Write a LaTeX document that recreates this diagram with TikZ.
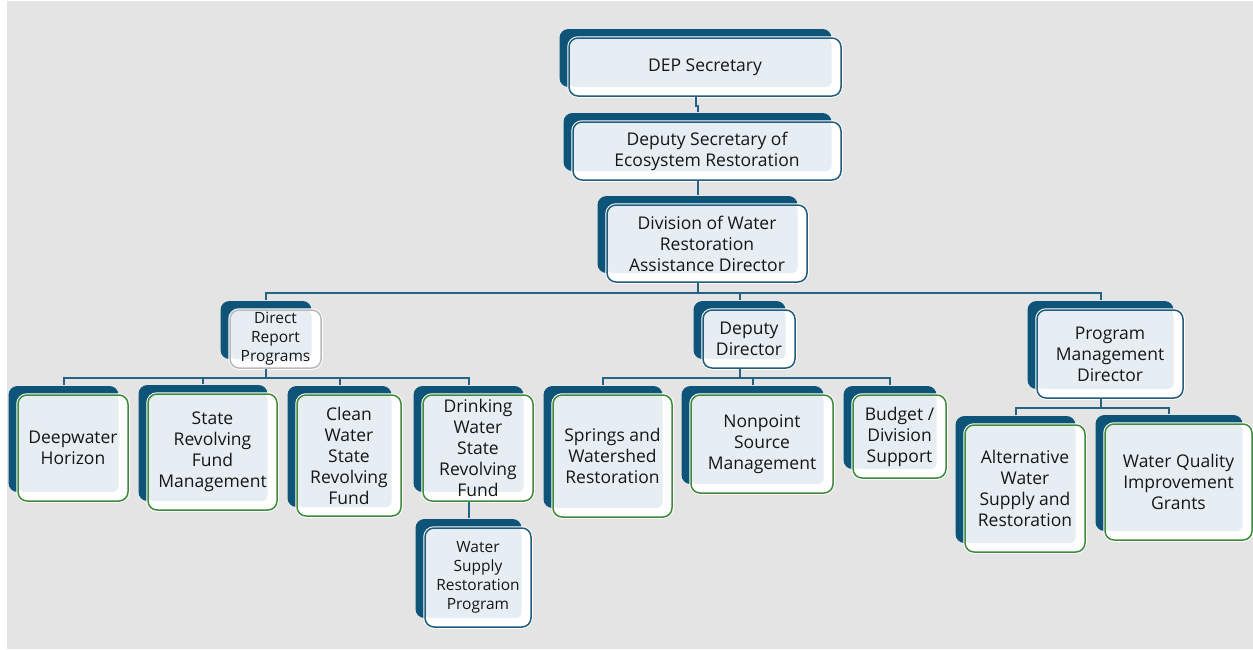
\documentclass[tikz,border=0pt]{standalone}
\usepackage{fontspec}
\setmainfont{Open Sans}
\usepackage{xcolor}
\usepackage{tikz}
\usetikzlibrary{shadows}

\definecolor{pagegray}{RGB}{227,228,227}
\definecolor{backblue}{RGB}{14,84,120}
\definecolor{linkblue}{RGB}{38,98,132}
\definecolor{headline}{RGB}{34,92,124}
\definecolor{leafgreen}{RGB}{62,138,60}
\definecolor{cardfill}{RGB}{231,238,243}
\definecolor{inktext}{RGB}{22,22,22}

\tikzset{
    card/.style={rounded corners=9pt, inner sep=0pt, align=center, text=inktext,
        font=\fontsize{17.5}{21}\selectfont, fill=white, line width=1.5pt,
        general shadow={fill=backblue, shadow xshift=-9.5pt, shadow yshift=9pt},
        preaction={draw=white, line width=3.5pt},
        path picture={\fill[cardfill, rounded corners=5pt]
            (path picture bounding box.north west) rectangle
            ([xshift=-9.5pt,yshift=9pt]path picture bounding box.south east);}},
    head/.style={card, draw=headline},
    leaf/.style={card, draw=leafgreen},
    small/.style={font=\fontsize{15.5}{19}\selectfont},
    link/.style={draw=linkblue, line width=2pt},
}

\begin{document}
\begin{tikzpicture}[x=1pt, y=-1pt]
    % Nền xám
    \useasboundingbox (0,0) rectangle (1253,649);
    \fill[pagegray] (7,1) rectangle (1253,649);

    % Cấp trên
    \node[head, minimum width=272pt, minimum height=58pt] (sec) at (705,67) {DEP Secretary};
    \node[head, minimum width=268pt, minimum height=58pt] (depsec) at (707,151) {Deputy Secretary of\\Ecosystem Restoration};
    \node[head, minimum width=200pt, minimum height=77pt] (division) at (707,243.5) {Division of Water\\Restoration\\Assistance Director};

    % Cấp giữa
    \node[card, small, draw=gray!55, minimum width=91pt, minimum height=58pt] (direct) at (275.5,339) {Direct\\Report\\Programs};
    \node[head, minimum width=92pt, minimum height=58pt] (depdir) at (749,339) {Deputy\\Director};
    \node[head, minimum width=146pt, minimum height=88pt] (progmgr) at (1110,354) {Program\\Management\\Director};

    % Các chương trình
    \node[leaf, minimum width=110pt, minimum height=106pt] (deepwater) at (73,448) {Deepwater\\Horizon};
    \node[leaf, minimum width=129pt, minimum height=116pt] (srfmgmt) at (212.5,452) {State\\Revolving\\Fund\\Management};
    \node[leaf, minimum width=104pt, minimum height=121pt] (cwsrf) at (349,455.5) {Clean\\Water\\State\\Revolving\\Fund};
    \node[leaf, minimum width=110pt, minimum height=106pt] (dwsrf) at (478,448) {Drinking\\Water\\State\\Revolving\\Fund};
    \node[head, small, minimum width=106pt, minimum height=99pt] (wsrp) at (478,577.5) {Water\\Supply\\Restoration\\Program};
    \node[leaf, minimum width=119pt, minimum height=122pt] (springs) at (612.5,456) {Springs and\\Watershed\\Restoration};
    \node[leaf, minimum width=142pt, minimum height=98pt] (nonpoint) at (762,444) {Nonpoint\\Source\\Management};
    \node[leaf, minimum width=93pt, minimum height=83pt] (budget) at (899.5,436.5) {Budget /\\Division\\Support};
    \node[leaf, minimum width=120pt, minimum height=127pt] (altwater) at (1025,488.5) {Alternative\\Water\\Supply and\\Restoration};
    \node[leaf, minimum width=147pt, minimum height=116pt] (wqgrants) at (1178.5,482) {Water Quality\\Improvement\\Grants};

    % Đường nối
    \draw[link] ([xshift=-9.5pt]sec.south) -- ++(0,9) -| ([xshift=-9.5pt,yshift=9pt]depsec.north);
    \draw[link] ([xshift=-9.5pt]depsec.south) -- ([xshift=-9.5pt,yshift=9pt]division.north);
    \foreach \k in {direct,depdir,progmgr}
        \draw[link] ([xshift=-9.5pt]division.south) -- ++(0,10) -| ([xshift=-9.5pt,yshift=9pt]\k.north);
    \foreach \k in {deepwater,srfmgmt,cwsrf,dwsrf}
        \draw[link] ([xshift=-9.5pt]direct.south) -- ++(0,9) -| ([xshift=-9.5pt,yshift=9pt]\k.north);
    \foreach \k in {springs,nonpoint,budget}
        \draw[link] ([xshift=-9.5pt]depdir.south) -- ++(0,9) -| ([xshift=-9.5pt,yshift=9pt]\k.north);
    \foreach \k in {altwater,wqgrants}
        \draw[link] ([xshift=-9.5pt]progmgr.south) -- ++(0,9) -| ([xshift=-9.5pt,yshift=9pt]\k.north);
    \draw[link] ([xshift=-9.5pt]dwsrf.south) -- ([xshift=-9.5pt,yshift=9pt]wsrp.north);
\end{tikzpicture}
\end{document}
